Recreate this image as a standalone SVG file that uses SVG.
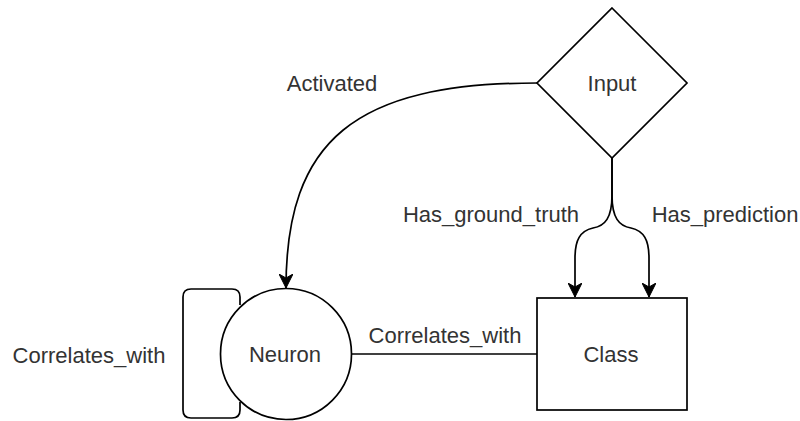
<svg xmlns="http://www.w3.org/2000/svg" width="800" height="421" viewBox="0 0 800 421">
  <style>
    .shape { fill: #ffffff; stroke: #000000; stroke-width: 1.7; }
    .edge { fill: none; stroke: #000000; stroke-width: 1.7; }
    .arrow { marker-end: url(#arrow); }
    text { font-family: "Liberation Sans", Arial, sans-serif; font-size: 22px; fill: #333333; }
    .c { text-anchor: middle; }
  </style>
  <defs>
    <marker id="arrow" markerUnits="userSpaceOnUse" viewBox="0 0 14 14" refX="14" refY="7" markerWidth="14" markerHeight="14" orient="auto">
      <path d="M0,0 L14,7 L0,14 L4,7 Z" fill="#000000" stroke="#000000" stroke-width="1"/>
    </marker>
  </defs>
  <rect width="800" height="421" fill="#ffffff"/>

  <g id="connectors">
    <path id="edge-activated" class="edge arrow" d="M537,83 C355,83 286,140 286,288"/>
    <path id="edge-ground-truth" class="edge arrow" d="M612,158 L612,195 C612,218 605,226 593,228 C580,231 575,240 575,258 L575,297"/>
    <path id="edge-prediction" class="edge arrow" d="M612,158 L612,195 C612,218 619,226 631,228 C644,231 649,240 649,258 L649,297"/>
    <path id="edge-correlates" class="edge" d="M352,354 L537,354"/>
    <path id="edge-self-loop" class="edge" d="M240,305 L240,297 Q240,289 232,289 L191,289 Q183,289 183,297 L183,410 Q183,418 191,418 L232,418 Q240,418 240,410 L240,402"/>
  </g>

  <g id="labels">
    <text class="c" x="332" y="91">Activated</text>
    <text class="c" x="491" y="222">Has_ground_truth</text>
    <text class="c" x="725" y="222">Has_prediction</text>
    <text class="c" x="445" y="343">Correlates_with</text>
    <text class="c" x="89" y="363">Correlates_with</text>
  </g>

  <g id="node-input">
    <polygon class="shape" points="612,8 687,83 612,158 537,83"/>
    <text class="c" x="612" y="91">Input</text>
  </g>

  <g id="node-neuron">
    <circle class="shape" cx="286" cy="354" r="65.5"/>
    <text class="c" x="285" y="362">Neuron</text>
  </g>

  <g id="node-class">
    <rect class="shape" x="537" y="298" width="150" height="112"/>
    <text class="c" x="611" y="362">Class</text>
  </g>
</svg>
